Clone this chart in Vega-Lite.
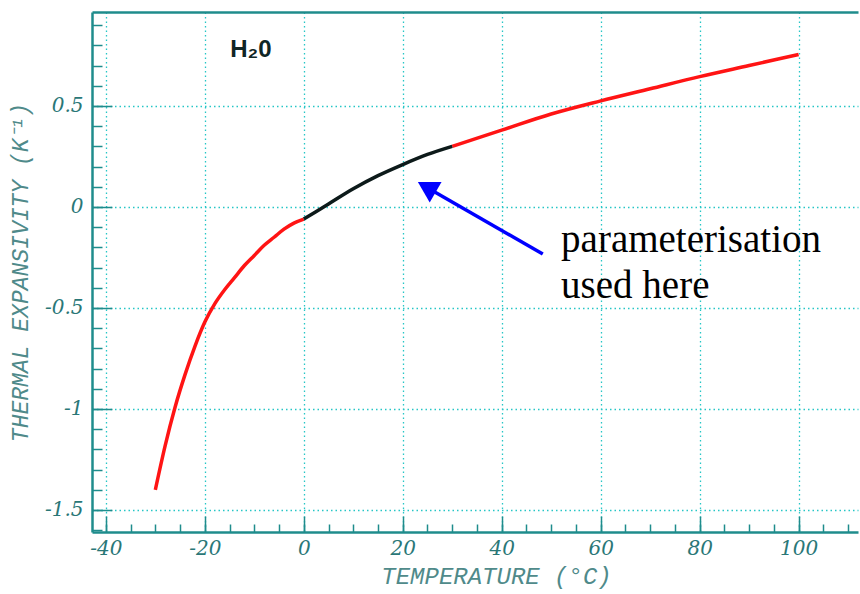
{
  "$schema": "https://vega.github.io/schema/vega-lite/v6.json",
  "width": 766,
  "height": 520,
  "autosize": {"type": "none"},
  "padding": {"left": 92, "top": 12, "right": 2, "bottom": 62},
  "background": "white",
  "config": {"view": {"stroke": null}},
  "datasets": {
    "curve": [
      {"T": -30, "a": -1.40, "part": "a", "phase": "outside"},
      {"T": -28, "a": -1.18, "part": "a", "phase": "outside"},
      {"T": -26, "a": -0.99, "part": "a", "phase": "outside"},
      {"T": -24, "a": -0.83, "part": "a", "phase": "outside"},
      {"T": -22, "a": -0.69, "part": "a", "phase": "outside"},
      {"T": -20, "a": -0.57, "part": "a", "phase": "outside"},
      {"T": -18, "a": -0.48, "part": "a", "phase": "outside"},
      {"T": -16, "a": -0.41, "part": "a", "phase": "outside"},
      {"T": -14, "a": -0.35, "part": "a", "phase": "outside"},
      {"T": -12, "a": -0.29, "part": "a", "phase": "outside"},
      {"T": -10, "a": -0.24, "part": "a", "phase": "outside"},
      {"T": -8, "a": -0.19, "part": "a", "phase": "outside"},
      {"T": -6, "a": -0.15, "part": "a", "phase": "outside"},
      {"T": -4, "a": -0.11, "part": "a", "phase": "outside"},
      {"T": -2, "a": -0.08, "part": "a", "phase": "outside"},
      {"T": 0, "a": -0.06, "part": "a", "phase": "outside"},
      {"T": 30, "a": 0.30, "part": "c", "phase": "outside"},
      {"T": 40, "a": 0.38, "part": "c", "phase": "outside"},
      {"T": 50, "a": 0.46, "part": "c", "phase": "outside"},
      {"T": 60, "a": 0.525, "part": "c", "phase": "outside"},
      {"T": 70, "a": 0.585, "part": "c", "phase": "outside"},
      {"T": 80, "a": 0.645, "part": "c", "phase": "outside"},
      {"T": 90, "a": 0.70, "part": "c", "phase": "outside"},
      {"T": 100, "a": 0.755, "part": "c", "phase": "outside"},
      {"T": 0, "a": -0.06, "part": "b", "phase": "used"},
      {"T": 5, "a": 0.015, "part": "b", "phase": "used"},
      {"T": 10, "a": 0.09, "part": "b", "phase": "used"},
      {"T": 15, "a": 0.155, "part": "b", "phase": "used"},
      {"T": 20, "a": 0.21, "part": "b", "phase": "used"},
      {"T": 25, "a": 0.26, "part": "b", "phase": "used"},
      {"T": 30, "a": 0.30, "part": "b", "phase": "used"}
    ],
    "arrow": [
      {"T": 48.3, "a": -0.233},
      {"T": 25.5, "a": 0.088}
    ],
    "head": [
      {"T": 24.85, "a": 0.098}
    ],
    "label": [
      {"T": -10.7, "a": 0.777, "text": "H₂0"}
    ],
    "note": [
      {"T": 52.0, "a": -0.223, "text": "parameterisation\nused here"}
    ]
  },
  "layer": [
    {
      "data": {"name": "curve"},
      "mark": {"type": "line", "strokeWidth": 3.5, "interpolate": "monotone"},
      "encoding": {
        "x": {
          "field": "T", "type": "quantitative",
          "scale": {"domain": [-42.8, 112], "nice": false, "zero": false},
          "axis": {
            "orient": "bottom",
            "values": [-40, -20, 0, 20, 40, 60, 80, 100],
            "labelExpr": "datum.value + ''",
            "tickSize": -16, "tickWidth": 1.5, "tickColor": "#1f8c8c",
            "domainColor": "#1f8c8c", "domainWidth": 2.5,
            "grid": true, "gridDash": [1.5, 3], "gridColor": "#26c6c6", "gridWidth": 1.3,
            "labelFont": "DejaVu Serif", "labelFontStyle": "italic", "labelFontSize": 20,
            "labelColor": "#2a7777", "labelPadding": 22,
            "title": "TEMPERATURE (°C)", "titleX": 404,
            "titleFont": "Liberation Mono", "titleFontStyle": "italic", "titleFontWeight": "normal",
            "titleFontSize": 24, "titleColor": "#4f8a8a", "titlePadding": 6
          }
        },
        "y": {
          "field": "a", "type": "quantitative",
          "scale": {"domain": [-1.609, 0.965], "nice": false, "zero": false},
          "axis": {
            "orient": "left",
            "values": [-1.5, -1, -0.5, 0, 0.5],
            "labelExpr": "datum.value + ''",
            "tickSize": -20, "tickWidth": 1.5, "tickColor": "#1f8c8c",
            "domainColor": "#1f8c8c", "domainWidth": 2.5,
            "grid": true, "gridDash": [1.5, 3], "gridColor": "#26c6c6", "gridWidth": 1.3,
            "labelFont": "DejaVu Serif", "labelFontStyle": "italic", "labelFontSize": 20,
            "labelColor": "#2a7777", "labelPadding": 29,
            "title": "THERMAL EXPANSIVITY (K⁻¹)",
            "titleFont": "Liberation Mono", "titleFontStyle": "italic", "titleFontWeight": "normal",
            "titleFontSize": 23, "titleColor": "#4f8a8a", "titlePadding": 12
          }
        },
        "color": {
          "field": "phase", "type": "nominal",
          "scale": {"domain": ["outside", "used"], "range": ["#ff1414", "#0d1a1a"]},
          "legend": null
        },
        "detail": {"field": "part"}
      }
    },
    {
      "data": {"name": "arrow"},
      "mark": {"type": "line", "strokeWidth": 3.5, "color": "#0000ff"},
      "encoding": {
        "x": {
          "field": "T", "type": "quantitative",
          "scale": {"domain": [-42.8, 112], "nice": false, "zero": false},
          "axis": {
            "orient": "bottom",
            "values": [-40, -35, -30, -25, -20, -15, -10, -5, 0, 5, 10, 15, 20, 25, 30, 35, 40, 45, 50, 55, 60, 65, 70, 75, 80, 85, 90, 95, 100, 105, 110],
            "labels": false, "domain": false, "grid": false, "title": null,
            "tickSize": -8, "tickWidth": 1.5, "tickColor": "#1f8c8c"
          }
        },
        "y": {
          "field": "a", "type": "quantitative",
          "scale": {"domain": [-1.609, 0.965], "nice": false, "zero": false},
          "axis": {
            "orient": "left",
            "values": [-1.6, -1.5, -1.4, -1.3, -1.2, -1.1, -1.0, -0.9, -0.8, -0.7, -0.6, -0.5, -0.4, -0.3, -0.2, -0.1, 0, 0.1, 0.2, 0.3, 0.4, 0.5, 0.6, 0.7, 0.8, 0.9],
            "labels": false, "domain": false, "grid": false, "title": null,
            "tickSize": -10, "tickWidth": 1.5, "tickColor": "#1f8c8c"
          }
        }
      }
    },
    {
      "data": {"name": "head"},
      "mark": {"type": "point", "shape": "triangle-up", "filled": true, "size": 560, "angle": 300, "color": "#0000ff", "opacity": 1},
      "encoding": {
        "x": {
          "field": "T", "type": "quantitative",
          "scale": {"domain": [-42.8, 112], "nice": false, "zero": false},
          "axis": {
            "orient": "top", "labels": false, "ticks": false, "grid": false, "title": null,
            "domain": true, "domainColor": "#1f8c8c", "domainWidth": 2.5
          }
        },
        "y": {
          "field": "a", "type": "quantitative",
          "scale": {"domain": [-1.609, 0.965], "nice": false, "zero": false},
          "axis": null
        }
      }
    },
    {
      "data": {"name": "label"},
      "mark": {"type": "text", "font": "Liberation Sans", "fontWeight": "bold", "fontSize": 24, "color": "#102626", "align": "center", "baseline": "middle"},
      "encoding": {
        "x": {"field": "T", "type": "quantitative", "axis": null},
        "y": {"field": "a", "type": "quantitative", "axis": null},
        "text": {"field": "text"}
      }
    },
    {
      "data": {"name": "note"},
      "mark": {"type": "text", "font": "Liberation Serif", "fontSize": 39, "color": "#000000", "align": "left", "baseline": "alphabetic", "lineBreak": "\n", "lineHeight": 46},
      "encoding": {
        "x": {"field": "T", "type": "quantitative", "axis": null},
        "y": {"field": "a", "type": "quantitative", "axis": null},
        "text": {"field": "text"}
      }
    }
  ],
  "resolve": {"axis": {"x": "independent", "y": "independent"}}
}
